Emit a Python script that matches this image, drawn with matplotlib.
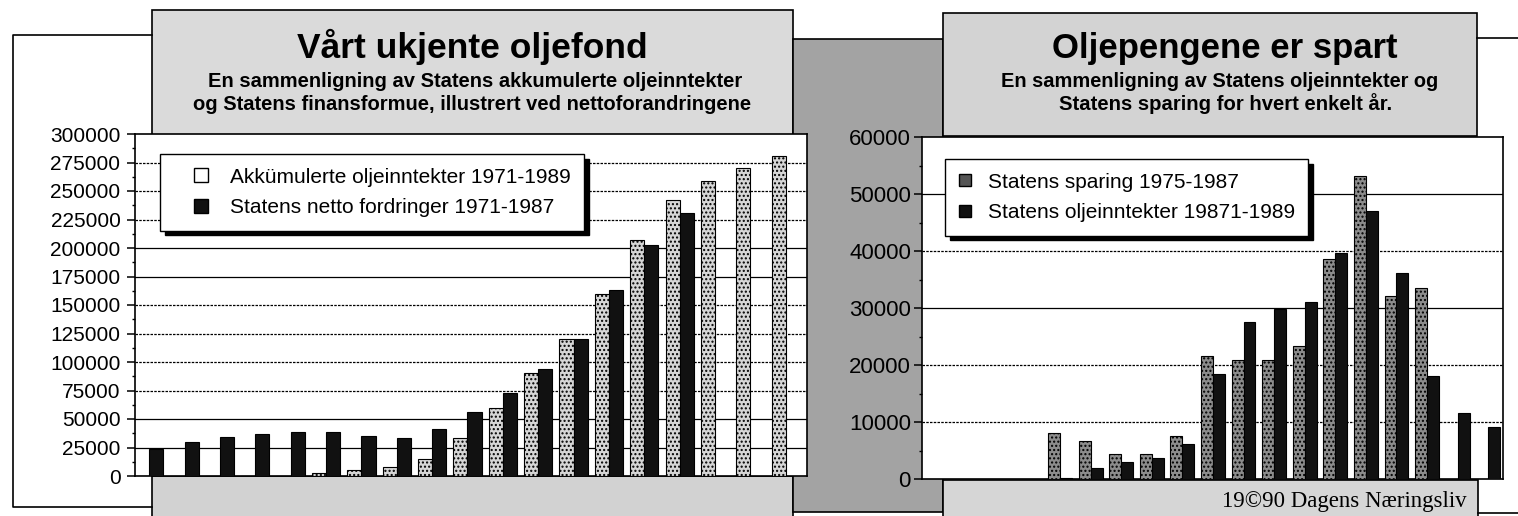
import numpy as np
import matplotlib
matplotlib.use("Agg")
import matplotlib.pyplot as plt
from matplotlib.patches import Rectangle
from matplotlib.lines import Line2D

# === Data ===
years = list(range(1971, 1990))
nan = np.nan

# left chart: accumulated oil income vs. state net claims (mill. kr)
akk_olje = [0, 0, 0, 0, 0, 2500, 5500, 7500, 15000, 33000, 60000, 90000,
            120000, 160000, 207000, 242000, 259000, 270000, 281000]
netto_fordr = [24000, 29500, 34000, 37000, 39000, 38500, 35000, 33000, 41000,
               56000, 73000, 94000, 120000, 163000, 203000, 231000, nan, nan, nan]

# right chart: state savings vs. oil income per year
sparing = [nan, nan, nan, nan, 8100, 6600, 4400, 4400, 7600, 21500, 20800,
           20800, 23400, 38600, 53100, 32100, 33500, nan, nan]
oljeinnt = [nan, nan, nan, nan, 200, 1900, 3000, 3700, 6200, 18400, 27500,
            29900, 31100, 39600, 47100, 36100, 18100, 11600, 9200]

left_ticks = list(range(0, 300001, 25000))
right_ticks = list(range(0, 60001, 10000))

W, H = 1518, 516
fig = plt.figure(figsize=(W / 100, H / 100), dpi=100)
fig.patch.set_facecolor("white")

sans = ["Liberation Sans", "DejaVu Sans"]
serif = ["Liberation Serif", "DejaVu Serif"]


def fx(px):
    return px / W


def fy(py):
    return 1 - py / H


def box(x0, y0, x1, y1, color):
    r = Rectangle((fx(x0), fy(y1)), fx(x1 - x0), (y1 - y0) / H, transform=fig.transFigure,
                  facecolor=color, edgecolor="black", lw=1.2, zorder=-5)
    fig.add_artist(r)


def line(xs, ys):
    fig.add_artist(Line2D([fx(x) for x in xs], [fy(y) for y in ys], transform=fig.transFigure,
                          color="black", lw=1.2, zorder=-4))


# === Page frame / newspaper boxes ===
line([152, 13, 13, 152], [35, 35, 507, 507])
line([1477, 1518], [38, 38])
line([1478, 1518], [513, 513])
box(152, 10, 793, 135, "#dadada")
box(152, 476, 793, 520, "#d2d2d2")
box(793, 39, 943, 512, "#a3a3a3")
box(943, 13, 1477, 136, "#d3d3d3")
box(943, 480, 1478, 520, "#d6d6d6")

# === Titles ===
tkw = dict(ha="center", va="baseline", fontweight="bold", family=sans)
fig.text(fx(472), fy(58), "Vårt ukjente oljefond", fontsize=25.5, **tkw)
fig.text(fx(475), fy(87), "En sammenligning av Statens akkumulerte oljeinntekter",
         fontsize=14.5, **tkw)
fig.text(fx(472), fy(110), "og Statens finansformue, illustrert ved nettoforandringene",
         fontsize=14.5, **tkw)
fig.text(fx(1225), fy(58), "Oljepengene er spart", fontsize=25, **tkw)
fig.text(fx(1220), fy(87), "En sammenligning av Statens oljeinntekter og",
         fontsize=14.4, **tkw)
fig.text(fx(1226), fy(110), "Statens sparing for hvert enkelt år.",
         fontsize=14.6, **tkw)
fig.text(fx(1467), fy(507), "19©90 Dagens Næringsliv", ha="right", va="baseline",
         fontsize=16.5, family=serif)

# === Left chart ===
ax1 = fig.add_axes([fx(135), fy(476), fx(807 - 135), 342 / H])
x = np.arange(len(years))
ax1.bar(x - 0.3, akk_olje, width=0.4, facecolor="#d6d6d6", edgecolor="black",
        hatch="....", lw=0.8, zorder=3)
ax1.bar(x + 0.1, netto_fordr, width=0.4, facecolor="#111111", edgecolor="black",
        lw=0.8, zorder=3)
ax1.set_xlim(-0.5, len(years) - 0.5)
ax1.set_ylim(0, 300000)
ax1.set_yticks(left_ticks)
ax1.set_yticks(np.arange(12500, 300000, 25000), minor=True)
for t in left_ticks[1:-1]:
    ls = "-" if t in (25000, 50000, 175000, 200000) else (0, (2, 1))
    ax1.axhline(t, color="black", lw=0.9, ls=ls, zorder=1)

# === Right chart ===
ax2 = fig.add_axes([fx(922), fy(479), fx(1503 - 922), 342 / H])
ax2.bar(x - 0.18, sparing, width=0.39, facecolor="#8c8c8c", edgecolor="black",
        hatch="....", lw=0.8, zorder=3)
ax2.bar(x + 0.21, oljeinnt, width=0.39, facecolor="#111111", edgecolor="black",
        lw=0.8, zorder=3)
ax2.set_xlim(-0.5, len(years) - 0.5)
ax2.set_ylim(0, 60000)
ax2.set_yticks(right_ticks)
ax2.set_yticks(np.arange(5000, 60000, 10000), minor=True)
for t in right_ticks[1:-1]:
    ls = "-" if t in (30000, 50000) else (0, (2, 1))
    ax2.axhline(t, color="black", lw=0.9, ls=ls, zorder=1)

for ax, size, pad in ((ax1, 15, 5), (ax2, 16, 2.5)):
    ax.set_facecolor("white")
    ax.set_xticks([])
    for s in ax.spines.values():
        s.set_linewidth(1.2)
    ax.tick_params(axis="y", which="major", direction="out", length=5.5, width=1.1, pad=pad)
    ax.tick_params(axis="y", which="minor", direction="out", length=2.5, width=1.0)
    for lab in ax.get_yticklabels():
        lab.set_family(sans)
        lab.set_fontsize(size)

# === Legends ===
shadow = {"color": "black", "alpha": 1, "ox": 3.5, "oy": -3.5}


def sq(face, size, hatch=None):
    return Line2D([], [], ls="none", marker="s", markersize=size, markerfacecolor=face,
                  markeredgecolor="black", markeredgewidth=1.0)


leg1 = ax1.legend([sq("white", 10.5), sq("#111111", 10.5)],
                  ["Akkümulerte oljeinntekter 1971-1989",
                   "Statens netto fordringer 1971-1987"],
                  loc="upper left", bbox_to_anchor=(0.037, 0.9415), borderaxespad=0,
                  prop={"family": sans, "size": 15}, fancybox=False, edgecolor="black",
                  framealpha=1, numpoints=1, handlelength=2.65, handletextpad=0.05,
                  borderpad=0.65, labelspacing=0.55, shadow=shadow)
leg1.get_frame().set_linewidth(1.0)

leg2 = ax2.legend([sq("#555555", 9), sq("#111111", 9)],
                  ["Statens sparing 1975-1987",
                   "Statens oljeinntekter 19871-1989"],
                  loc="upper left", bbox_to_anchor=(0.0396, 0.9357), borderaxespad=0,
                  prop={"family": sans, "size": 15}, fancybox=False, edgecolor="black",
                  framealpha=1, numpoints=1, handlelength=0.6, handletextpad=0.8,
                  borderpad=0.65, labelspacing=0.55, shadow=shadow)
leg2.get_frame().set_linewidth(1.0)

fig.savefig("out.png", dpi=100)
